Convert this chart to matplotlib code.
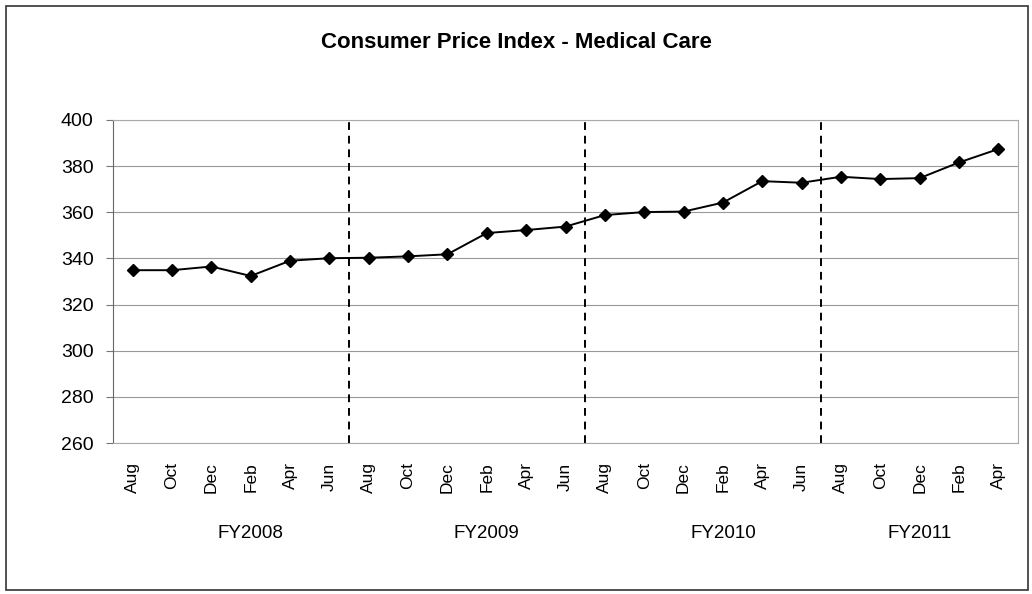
import matplotlib
matplotlib.use("Agg")
import matplotlib.pyplot as plt
from matplotlib.patches import Rectangle

plt.rcParams['font.family'] = ['Liberation Sans', 'DejaVu Sans']

months = ["Aug", "Oct", "Dec", "Feb", "Apr", "Jun",
          "Aug", "Oct", "Dec", "Feb", "Apr", "Jun",
          "Aug", "Oct", "Dec", "Feb", "Apr", "Jun",
          "Aug", "Oct", "Dec", "Feb", "Apr"]
cpi = [334.9, 334.9, 336.5, 332.4, 339.0, 340.1,
       340.3, 340.9, 341.8, 351.0, 352.3, 353.8,
       358.8, 360.1, 360.3, 364.2, 373.5, 372.8,
       375.4, 374.4, 374.8, 381.6, 387.4]
fy_labels = ["FY2008", "FY2009", "FY2010", "FY2011"]
fy_sizes = [6, 6, 6, 5]

W, H = 1032, 594
fig = plt.figure(figsize=(W / 100, H / 100), dpi=100)
ax = fig.add_axes([113 / W, 1 - 443 / H, (1018 - 113) / W, (443 - 120) / H])

x = list(range(len(cpi)))
ax.plot(x, cpi, color="black", linewidth=1.4, marker="D", markersize=6, zorder=3)

# fiscal year separators
start = 0
for n in fy_sizes[:-1]:
    start += n
    ax.axvline(start - 0.5, color="black", linestyle=(0, (4, 3)), linewidth=1.4, zorder=2)

ax.set_xlim(-0.5, len(cpi) - 0.5)
ax.set_ylim(260, 400)
ax.set_yticks(range(260, 401, 20))
ax.set_xticks(x)
ax.set_xticklabels(months, rotation=90, fontsize=12.5)
ax.tick_params(axis="y", labelsize=14, length=5, color="#777777", pad=9)
ax.tick_params(axis="x", length=0, pad=14)
ax.grid(axis="y", color="#999999", linewidth=0.8)
ax.set_axisbelow(True)
for side in ["top", "right", "bottom"]:
    ax.spines[side].set_color("#aaaaaa")
    ax.spines[side].set_linewidth(0.8)
ax.spines["left"].set_color("#666666")

# fiscal year labels
start = 0
for lab, n in zip(fy_labels, fy_sizes):
    center = start + (n - 1) / 2 + (0.5 if n == 6 else 0)
    ax.text(center, -(534 - 443) / (443 - 120), lab, transform=ax.get_xaxis_transform(),
            ha="center", va="center", fontsize=13.5)
    start += n

fig.text(0.5, 1 - 43 / H, "Consumer Price Index - Medical Care",
         ha="center", va="center", fontsize=16, fontweight="bold")

fig.patches.append(Rectangle((6 / W, 4 / H), 1022 / W, 584 / H,
                             transform=fig.transFigure, fill=False,
                             edgecolor="#333333", linewidth=1.2))

fig.savefig("out.png", dpi=100)
